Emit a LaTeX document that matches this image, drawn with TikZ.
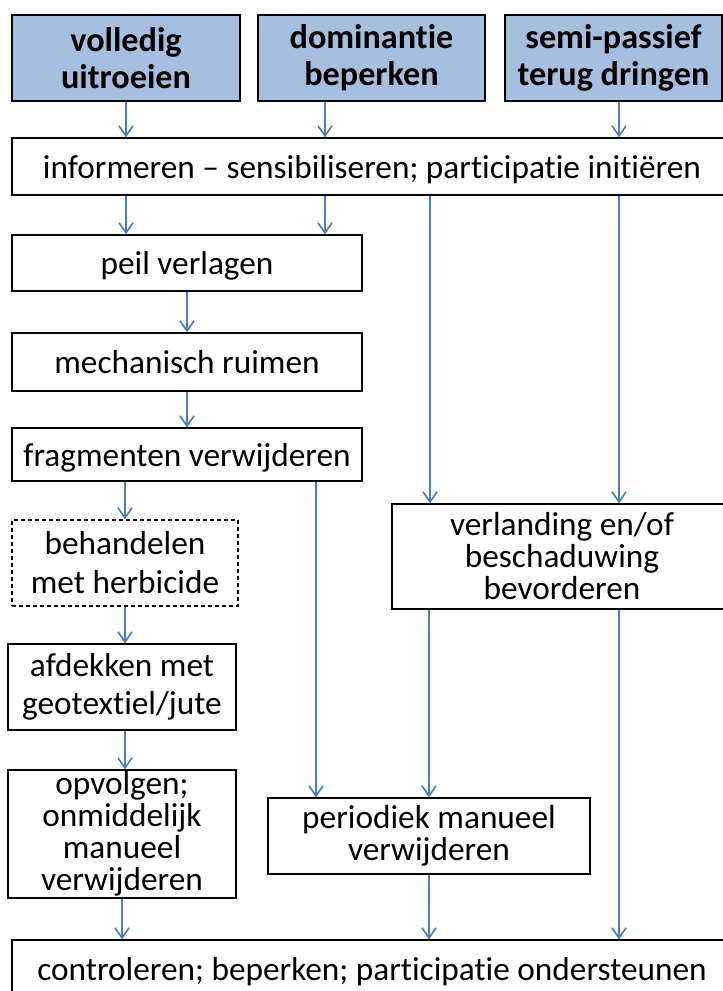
\documentclass[tikz,border=0pt]{standalone}
\usepackage{fontspec}
\setmainfont[Ligatures=NoCommon]{Carlito}
\usetikzlibrary{arrows.meta}
\definecolor{lineblue}{HTML}{4A7EBB}
\definecolor{headblue}{HTML}{A7BFDE}

\begin{document}
\begin{tikzpicture}[x=1pt,y=-1pt,
    box/.style={draw,line width=1.3pt,inner sep=0pt,align=center,
      font=\fontsize{33.3}{32}\selectfont},
    line box/.style={box,text depth=0pt},
    head box/.style={box,fill=headblue,font=\fontsize{34.2}{37}\selectfont\bfseries},
    arr/.style={draw=lineblue,line width=1.7pt,-{Straight Barb[length=10pt,width=14pt]}}]

  \useasboundingbox (0,0) rectangle (723,991);

  % columns of the connectors
  \coordinate (k2) at (325,0);
  \coordinate (k3) at (430,0);
  \coordinate (k4) at (619,0);
  \coordinate (k6) at (316,0);

  % Define boxes
  \node[head box,minimum width=228pt,minimum height=86pt] (vol) at (126,58) {volledig\\uitroeien};
  \node[head box,minimum width=227pt,minimum height=86pt] (dom) at (371.5,58) {dominantie\\beperken};
  \node[head box,minimum width=217pt,minimum height=86pt] (semi) at (613.5,58) {semi-passief\\terug dringen};

  \node[line box,minimum width=720pt,minimum height=57pt] (info) at (372,166.5)
    {informeren – sensibiliseren; participatie initiëren};

  \node[line box,minimum width=350pt,minimum height=56pt] (peil) at (187,263) {peil verlagen};
  \node[line box,minimum width=350pt,minimum height=58pt] (mech) at (187,362) {mechanisch ruimen};
  \node[line box,minimum width=350pt,minimum height=53pt] (frag) at (187,454.5) {fragmenten verwijderen};

  \node[box,dash pattern=on 4pt off 3pt,font=\fontsize{33.3}{39}\selectfont,
    minimum width=226pt,minimum height=86pt] (beh) at (125,563) {behandelen\\met herbicide};
  \node[box,font=\fontsize{33.3}{38}\selectfont,
    minimum width=228pt,minimum height=86pt] (afd) at (122,687) {afdekken met\\geotextiel/jute};
  \node[box,minimum width=228pt,minimum height=128pt] (opv) at (122,834)
    {opvolgen;\\onmiddelijk\\manueel\\verwijderen};

  \node[box,minimum width=340pt,minimum height=105pt] (verl) at (562,556.5)
    {verlanding en/of\\beschaduwing\\bevorderen};
  \node[box,minimum width=322pt,minimum height=76pt] (peri) at (429,836)
    {periodiek manueel\\verwijderen};

  \node[line box,minimum width=720pt,minimum height=57pt] (ctrl) at (372,968.5)
    {controleren; beperken; participatie ondersteunen};

  % Connectors
  \draw[arr] (vol.south) -- (vol.south |- info.north);
  \draw[arr] (dom.south -| k2) -- (info.north -| k2);
  \draw[arr] (semi.south -| k4) -- (info.north -| k4);

  \draw[arr] (info.south -| vol.south) -- (peil.north -| vol.south);
  \draw[arr] (info.south -| k2) -- (peil.north -| k2);
  \draw[arr] (info.south -| k3) -- (verl.north -| k3);
  \draw[arr] (info.south -| k4) -- (verl.north -| k4);

  \draw[arr] (peil) -- (mech);
  \draw[arr] (mech) -- (frag);
  \draw[arr] (frag.south -| beh.north) -- (beh.north);
  \draw[arr] (frag.south -| k6) -- (peri.north -| k6);

  \draw[arr] (beh.south) -- (beh.south |- afd.north);
  \draw[arr] (afd.south -| beh.south) -- (opv.north -| beh.south);
  \draw[arr] (opv.south) -- (ctrl.north -| opv.south);

  \draw[arr] (verl.south -| peri.north) -- (peri.north);
  \draw[arr] (verl.south -| k4) -- (ctrl.north -| k4);
  \draw[arr] (peri.south) -- (ctrl.north -| peri.south);

\end{tikzpicture}
\end{document}
